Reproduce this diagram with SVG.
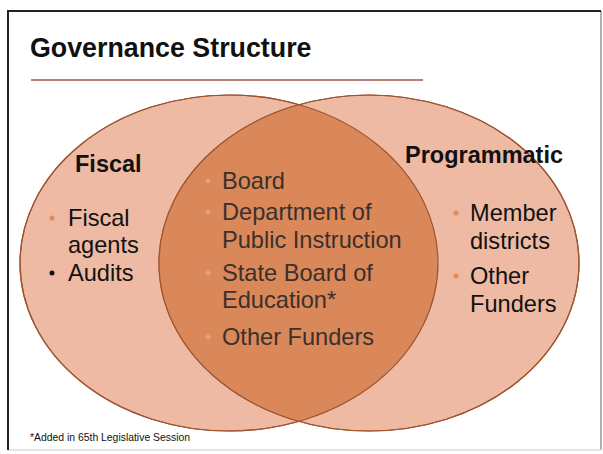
<svg xmlns="http://www.w3.org/2000/svg" width="603" height="454" viewBox="0 0 603 454">
<style>
text{font-family:"Liberation Sans",Arial,sans-serif;fill:#111}
.h{font-weight:bold;font-size:23.5px}
.b{font-size:23.6px}
.c{font-size:23.6px;fill:#3a302c}
.ob{fill:#e08a5c}
.lb{fill:#e8a07c}
.ell{stroke:#9c5532;stroke-width:1.2}
</style>
<rect x="0" y="0" width="603" height="454" fill="#fff"/>
<g id="frame">
<line x1="601" y1="11" x2="601" y2="450" stroke="#999" stroke-width="1.5"/>
<line x1="8" y1="450" x2="601" y2="450" stroke="#ddd" stroke-width="1.5"/>
<polyline points="8,450 8,11 601,11" fill="none" stroke="#222" stroke-width="2"/>
</g>
<g id="title">
<text x="30" y="57" style="font-weight:bold;font-size:26.8px">Governance Structure</text>
<line x1="31" y1="80" x2="423" y2="80" stroke="#b98078" stroke-width="2"/>
</g>
<defs>
<clipPath id="clipL"><ellipse cx="229" cy="263" rx="209" ry="168"/></clipPath>
</defs>
<g id="fiscal">
<ellipse class="ell" cx="229" cy="263" rx="209" ry="168" fill="#eebaa3"/>
</g>
<g id="programmatic">
<ellipse class="ell" cx="369" cy="263" rx="210" ry="168" fill="#eebaa3"/>
</g>
<g id="overlap">
<ellipse cx="369" cy="263" rx="210" ry="168" fill="#da885a" clip-path="url(#clipL)"/>
<ellipse cx="229" cy="263" rx="209" ry="168" fill="none" stroke="#9c5532" stroke-width="1.2"/>
<ellipse cx="369" cy="263" rx="210" ry="168" fill="none" stroke="#9c5532" stroke-width="1.2"/>
</g>
<g id="fiscal-text">
<text class="h" x="75" y="172">Fiscal</text>
<circle class="ob" cx="52" cy="218" r="2.5"/>
<text class="b" x="68" y="226">Fiscal</text>
<text class="b" x="68" y="253">agents</text>
<circle cx="52" cy="273" r="2.5" fill="#111"/>
<text class="b" x="68" y="281">Audits</text>
</g>
<g id="programmatic-text">
<text class="h" x="405" y="163">Programmatic</text>
<circle class="ob" cx="456" cy="213" r="2.5"/>
<text class="b" x="470" y="221">Member</text>
<text class="b" x="470" y="249">districts</text>
<circle class="ob" cx="456" cy="276" r="2.5"/>
<text class="b" x="470" y="284">Other</text>
<text class="b" x="470" y="312">Funders</text>
</g>
<g id="overlap-text">
<circle class="lb" cx="208" cy="181" r="2.5"/>
<text class="c" x="222" y="189">Board</text>
<circle class="lb" cx="208" cy="212" r="2.5"/>
<text class="c" x="222" y="220">Department of</text>
<text class="c" x="222" y="248">Public Instruction</text>
<circle class="lb" cx="208" cy="273" r="2.5"/>
<text class="c" x="222" y="281">State Board of</text>
<text class="c" x="222" y="308">Education*</text>
<circle class="lb" cx="208" cy="337" r="2.5"/>
<text class="c" x="222" y="345">Other Funders</text>
</g>
<text x="30" y="441" style="font-size:10.4px">*Added in 65th Legislative  Session</text>
</svg>
